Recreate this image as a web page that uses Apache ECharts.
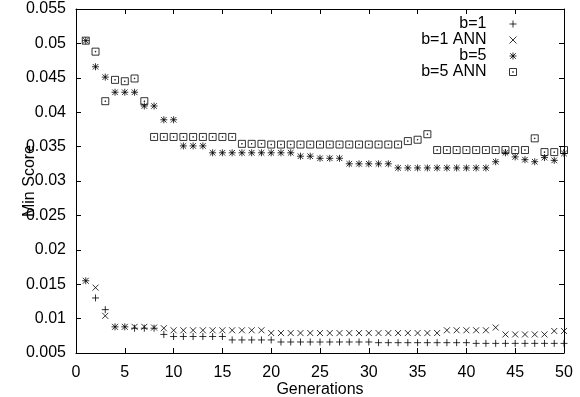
<!DOCTYPE html>
<html><head><meta charset="utf-8">
<script src="https://cdn.jsdelivr.net/npm/echarts@6/dist/echarts.min.js"></script>
<style>html,body{margin:0;padding:0;background:#fff}#c{width:580px;height:397px}</style>
</head><body><div id="c"></div>
<script>
const generations = [1,2,3,4,5,6,7,8,9,10,11,12,13,14,15,16,17,18,19,20,21,22,23,24,25,26,27,28,29,30,31,32,33,34,35,36,37,38,39,40,41,42,43,44,45,46,47,48,49,50];
const seriesNames = ['b=1','b=1 ANN','b=5','b=5 ANN'];
const b1 = [0.0155,0.0130,0.0113,0.0088,0.0088,0.0086,0.0086,0.0086,0.0077,0.0074,
            0.0074,0.0074,0.0074,0.0074,0.0074,0.0069,0.0069,0.0069,0.0069,0.0069,
            0.0066,0.0066,0.0066,0.0066,0.0066,0.0066,0.0066,0.0066,0.0066,0.0066,
            0.0065,0.0065,0.0065,0.0065,0.0065,0.0065,0.0065,0.0065,0.0065,0.0065,
            0.0064,0.0064,0.0064,0.0064,0.0064,0.0064,0.0064,0.0064,0.0064,0.0064];
const b1ANN = [0.0155,0.0145,0.0104,0.0088,0.0088,0.0088,0.0088,0.0087,0.0086,0.0083,
               0.0083,0.0083,0.0083,0.0083,0.0083,0.0083,0.0083,0.0083,0.0083,0.0079,
               0.0079,0.0079,0.0079,0.0079,0.0079,0.0079,0.0079,0.0079,0.0079,0.0079,
               0.0079,0.0079,0.0079,0.0079,0.0079,0.0079,0.0079,0.0083,0.0083,0.0083,
               0.0083,0.0083,0.0087,0.0077,0.0077,0.0077,0.0077,0.0077,0.0082,0.0082];
const b5 = [0.0504,0.0466,0.0451,0.0429,0.0429,0.0429,0.0409,0.0409,0.0389,0.0389,
            0.0351,0.0351,0.0351,0.0341,0.0341,0.0341,0.0341,0.0341,0.0341,0.0341,
            0.0341,0.0341,0.0336,0.0336,0.0333,0.0333,0.0333,0.0325,0.0325,0.0325,
            0.0325,0.0325,0.0319,0.0319,0.0319,0.0319,0.0319,0.0319,0.0319,0.0319,
            0.0319,0.0319,0.0328,0.0341,0.0335,0.0331,0.0328,0.0334,0.0330,0.0340];
const b5ANN = [0.0504,0.0488,0.0416,0.0447,0.0445,0.0449,0.0416,0.0364,0.0364,0.0364,
               0.0364,0.0364,0.0364,0.0364,0.0364,0.0364,0.0354,0.0354,0.0354,0.0353,
               0.0353,0.0353,0.0353,0.0353,0.0353,0.0353,0.0353,0.0353,0.0353,0.0353,
               0.0353,0.0353,0.0353,0.0358,0.0360,0.0368,0.0345,0.0345,0.0345,0.0345,
               0.0345,0.0345,0.0345,0.0345,0.0345,0.0345,0.0362,0.0342,0.0342,0.0345];
const xTicks = [0,5,10,15,20,25,30,35,40,45,50];
const yTicks = ['0.005','0.01','0.015','0.02','0.025','0.03','0.035','0.04','0.045','0.05','0.055'];

const FONT = "'Liberation Sans', Arial, sans-serif";
const FS = 16;
const symbols = [
  'path://M0,5L10,5M5,0L5,10',
  'path://M0,0L10,10M0,10L10,0',
  'path://M0,5L10,5M5,0L5,10M1,1L9,9M1,9L9,1',
  'path://M0,0L10,0L10,10L0,10ZM4.5,4.5L5.5,4.5L5.5,5.5L4.5,5.5Z'
];
const sizes = [7, 6, 7, 7];
const values = [b1, b1ANN, b5, b5ANN];
const sty = {color: 'none', borderColor: '#000', borderWidth: 1};

const chart = echarts.init(document.getElementById('c'), null, {renderer: 'canvas'});
const axBase = {
  type: 'value', min: xTicks[0], max: xTicks[xTicks.length-1], interval: 5,
  axisLine: {show: true, onZero: false, lineStyle: {color: '#000', width: 1}},
  axisTick: {show: true, inside: true, length: 5, lineStyle: {color: '#000'}},
  splitLine: {show: false}
};
const yBase = {
  type: 'value', min: +yTicks[0], max: +yTicks[yTicks.length-1], interval: 0.005,
  axisLine: {show: true, onZero: false, lineStyle: {color: '#000', width: 1}},
  axisTick: {show: true, inside: true, length: 5, lineStyle: {color: '#000'}},
  splitLine: {show: false}
};
chart.setOption({
  animation: false,
  backgroundColor: '#fff',
  grid: {left: 76, right: 16, top: 9, bottom: 44, containLabel: false, outerBoundsMode: 'none'},
  xAxis: [
    Object.assign({}, axBase, {position: 'bottom',
      axisLabel: {color: '#000', fontSize: FS, fontFamily: FONT, margin: 12},
      name: 'Generations', nameLocation: 'middle', nameGap: 29, nameMoveOverlap: false,
      nameTextStyle: {color: '#000', fontSize: FS, fontFamily: FONT}}),
    Object.assign({}, axBase, {position: 'top', axisLabel: {show: false}})
  ],
  yAxis: [
    Object.assign({}, yBase, {position: 'left',
      axisLabel: {color: '#000', fontSize: FS, fontFamily: FONT, margin: 10,
        formatter: v => String(+v.toFixed(3))},
      name: 'Min Score', nameLocation: 'middle', nameGap: 38, nameMoveOverlap: false,
      nameTextStyle: {color: '#000', fontSize: FS, fontFamily: FONT}}),
    Object.assign({}, yBase, {position: 'right', axisLabel: {show: false}})
  ],
  legend: {
    orient: 'vertical', align: 'right', right: 61, top: 16, padding: 0,
    itemWidth: 7, itemHeight: 7, itemGap: 0,
    textStyle: {color: '#000', fontSize: FS, fontFamily: FONT, lineHeight: 15, padding: [0, 18, 0, 0]},
    itemStyle: sty,
    data: seriesNames.map((n, i) => ({name: n, icon: symbols[i]}))
  },
  series: seriesNames.map((n, i) => ({
    name: n, type: 'scatter', xAxisIndex: 0, yAxisIndex: 0,
    symbol: symbols[i], symbolSize: sizes[i],
    itemStyle: sty,
    emphasis: {disabled: true},
    data: generations.map((g, k) => [g, values[i][k]])
  }))
});
</script></body></html>
